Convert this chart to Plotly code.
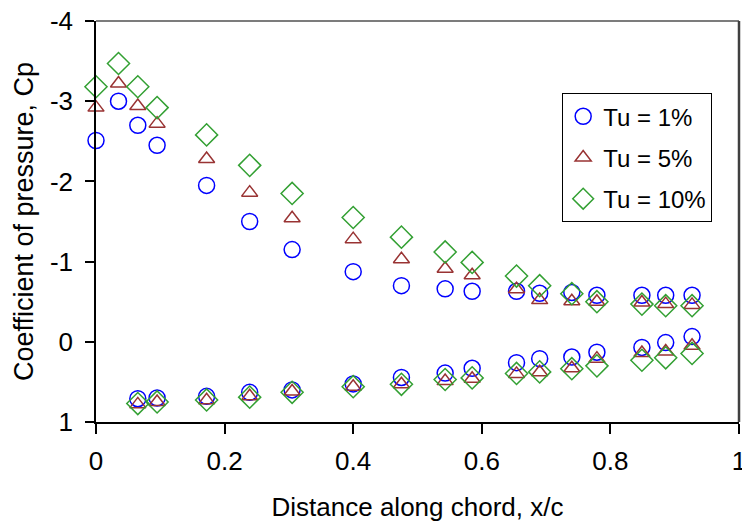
import plotly.graph_objects as go

# Data
x_upper = [0, 0.035, 0.065, 0.095, 0.172, 0.239, 0.305, 0.40, 0.475, 0.543,
           0.585, 0.654, 0.69, 0.74, 0.779, 0.849, 0.886, 0.927]
x_lower = [0.065, 0.095, 0.172, 0.239, 0.305, 0.40, 0.475, 0.543, 0.585,
           0.654, 0.69, 0.74, 0.779, 0.849, 0.886, 0.927]

cp1_upper = [-2.51, -3.00, -2.70, -2.45, -1.95, -1.50, -1.15, -0.875, -0.70, -0.66,
             -0.63, -0.63, -0.605, -0.615, -0.58, -0.58, -0.58, -0.58]
cp5_upper = [-2.92, -3.22, -2.94, -2.72, -2.28, -1.86, -1.54, -1.28, -1.03, -0.91,
             -0.83, -0.655, -0.52, -0.505, -0.50, -0.49, -0.47, -0.46]
cp10_upper = [-3.18, -3.47, -3.18, -2.92, -2.58, -2.20, -1.85, -1.55, -1.305, -1.12,
              -0.99, -0.82, -0.70, -0.60, -0.50, -0.47, -0.45, -0.45]

cp1_lower = [0.71, 0.70, 0.68, 0.63, 0.60, 0.525, 0.445, 0.39, 0.33, 0.26,
             0.21, 0.19, 0.13, 0.07, 0.01, -0.065]
cp5_lower = [0.78, 0.75, 0.73, 0.68, 0.62, 0.56, 0.53, 0.49, 0.46, 0.40,
             0.38, 0.33, 0.21, 0.14, 0.12, 0.05]
cp10_lower = [0.77, 0.75, 0.725, 0.69, 0.63, 0.56, 0.53, 0.47, 0.45, 0.395,
              0.375, 0.335, 0.30, 0.23, 0.20, 0.145]

series_names = ["Tu = 1%", "Tu = 5%", "Tu = 10%"]

x_tickvals = [0, 0.2, 0.4, 0.6, 0.8, 1]
x_ticktext = ["0", "0.2", "0.4", "0.6", "0.8", "1"]
y_tickvals = [-4, -3, -2, -1, 0, 1]
y_ticktext = ["-4", "-3", "-2", "-1", "0", "1"]

FONT = "Arial, Liberation Sans, sans-serif"

styles = [
    dict(symbol="circle-open", color="#0000FF", size=16),
    dict(symbol="triangle-up-open", color="#993333", size=14),
    dict(symbol="diamond-open", color="#33A033", size=17),
]
ups = [cp1_upper, cp5_upper, cp10_upper]
lows = [cp1_lower, cp5_lower, cp10_lower]

fig = go.Figure()
for name, st, up, lo in zip(series_names, styles, ups, lows):
    fig.add_trace(go.Scatter(
        x=x_upper + x_lower,
        y=up + lo,
        mode="markers",
        name=name,
        legendgroup=name,
        cliponaxis=False,
        marker=dict(symbol=st["symbol"], size=st["size"], color=st["color"],
                    line=dict(color=st["color"], width=1.5)),
    ))

fig.update_layout(
    width=742, height=523,
    margin=dict(l=96, r=3, t=21, b=101, autoexpand=False),
    paper_bgcolor="white", plot_bgcolor="white",
    font=dict(family=FONT, size=26, color="black"),
    showlegend=True,
    legend=dict(
        x=0.725, y=0.82, xanchor="left", yanchor="top",
        bgcolor="white", bordercolor="black", borderwidth=1,
        font=dict(family=FONT, size=24, color="black"),
        tracegroupgap=7,
        traceorder="grouped",
    ),
    xaxis=dict(
        range=[0, 1], tickvals=x_tickvals, ticktext=x_ticktext,
        showgrid=False, zeroline=False,
        showline=True, linecolor="black", linewidth=1.5,
        ticks="outside", ticklen=10, tickcolor="black", tickwidth=1.5,
        ticklabelstandoff=5, ticklabeloverflow="allow",
        title=dict(text="Distance along chord, x/c", standoff=23,
                   font=dict(family=FONT, size=26)),
        automargin=False,
    ),
    yaxis=dict(
        range=[1, -4], tickvals=y_tickvals, ticktext=y_ticktext,
        showgrid=False, zeroline=False,
        showline=True, linecolor="black", linewidth=1.5,
        ticks="outside", ticklen=9, tickcolor="black", tickwidth=1.5,
        ticklabelstandoff=7, ticklabeloverflow="allow",
        title=dict(text="Coefficient of pressure, Cp", standoff=8,
                   font=dict(family=FONT, size=27)),
        automargin=False,
    ),
    shapes=[
        dict(type="line", xref="paper", yref="paper", x0=0, x1=1, y0=1, y1=1,
             line=dict(color="#505050", width=1.5)),
        dict(type="line", xref="paper", yref="paper", x0=1, x1=1, y0=0, y1=1,
             line=dict(color="#404040", width=2.5)),
    ],
)

# Remove the browser's default 8px body margin so the 742x523 figure fills the page.
fig.write_html(
    "out.html",
    config={"displayModeBar": False},
    post_script="document.body.style.margin='0';"
                "document.documentElement.style.overflow='hidden';",
)
